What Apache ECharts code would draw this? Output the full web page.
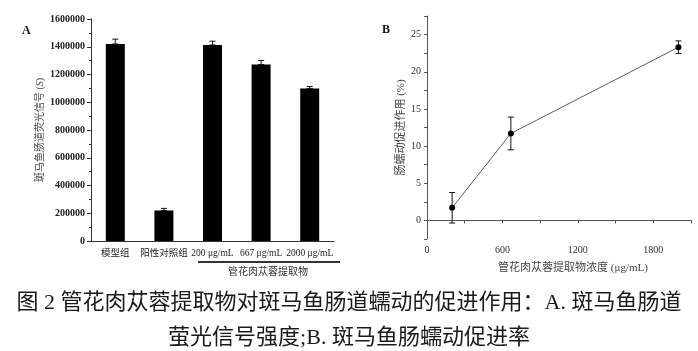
<!DOCTYPE html>
<html>
<head>
<meta charset="utf-8">
<script src="https://cdn.jsdelivr.net/npm/echarts@6/dist/echarts.min.js"></script>
<style>
  html, body { margin: 0; padding: 0; background: #fff; }
  #main { width: 698px; height: 351px; }
</style>
</head>
<body>
<div id="main"></div>
<script>
var myChart = echarts.init(document.getElementById('main'));

// panel A: fluorescence signal
var groupsA = ['模型组', '阳性对照组', '200 μg/mL', '667 μg/mL', '2000 μg/mL'];
var signalA = [1420000, 220000, 1413000, 1272000, 1100000];
var signalErrA = [35000, 15000, 27000, 29000, 14000];

// panel B: promotion rate vs concentration
var concB = [200, 667, 2000];
var rateB = [1.7, 11.7, 23.3];
var rateErrB = [2.05, 2.2, 0.85];

var serif = '"Liberation Serif", "Noto Sans CJK SC", serif';

var errA = [];
for (var i = 0; i < groupsA.length; i++) {
  errA.push([i, signalA[i], signalA[i] + signalErrA[i]]);
}
var lineB = [];
var errB = [];
for (var j = 0; j < concB.length; j++) {
  lineB.push([concB[j], rateB[j]]);
  errB.push([concB[j], rateB[j] - rateErrB[j], rateB[j] + rateErrB[j]]);
}

function errorBar(params, api) {
  var x = api.value(0);
  var p1 = api.coord([x, api.value(1)]);
  var p2 = api.coord([x, api.value(2)]);
  var half = 3;
  return {
    type: 'group',
    children: [
      { type: 'line', shape: { x1: p1[0], y1: p1[1], x2: p2[0], y2: p2[1] }, style: { stroke: '#111', lineWidth: 1 } },
      { type: 'line', shape: { x1: p2[0] - half, y1: p2[1], x2: p2[0] + half, y2: p2[1] }, style: { stroke: '#111', lineWidth: 1 } },
      { type: 'line', shape: { x1: p1[0] - half, y1: p1[1], x2: p1[0] + half, y2: p1[1] }, style: { stroke: '#111', lineWidth: 1 } }
    ]
  };
}

option = {
  animation: false,
  grid: [
    { left: 91, top: 19, width: 243, height: 222 },
    { left: 427, top: 16, width: 264, height: 223 }
  ],
  xAxis: [{
    gridIndex: 0,
    type: 'category',
    data: groupsA,
    axisLine: { lineStyle: { color: '#333', width: 1 } },
    axisTick: { show: false },
    axisLabel: { color: '#222', fontFamily: serif, fontSize: 9.5, margin: 8, interval: 0 }
  }, {
    gridIndex: 1,
    type: 'value',
    min: 0,
    max: 2100,
    interval: 300,
    name: '管花肉苁蓉提取物浓度 (μg/mL)',
    nameLocation: 'middle',
    nameGap: 24,
    nameTextStyle: { color: '#444', fontFamily: serif, fontSize: 11, padding: [0, 0, 0, 28] },
    splitLine: { show: false },
    axisLine: { lineStyle: { color: '#555', width: 1 } },
    axisTick: { length: 3, lineStyle: { color: '#555' } },
    axisLabel: {
      color: '#333', fontFamily: serif, fontSize: 10, margin: 6,
      formatter: function (v) { return v % 600 === 0 && v < 2100 ? String(v) : ''; }
    }
  }],
  yAxis: [{
    gridIndex: 0,
    type: 'value',
    min: 0,
    max: 1600000,
    interval: 200000,
    name: '斑马鱼肠道荧光信号 ({i|S})',
    nameLocation: 'middle',
    nameRotate: 90,
    nameGap: 46,
    nameTextStyle: {
      color: '#444', fontFamily: serif, fontSize: 10,
      rich: { i: { fontStyle: 'italic', fontFamily: serif, fontSize: 10, color: '#444' } }
    },
    splitLine: { show: false },
    axisLine: { show: true, lineStyle: { color: '#333', width: 1 } },
    axisTick: { show: true, length: 4, lineStyle: { color: '#333' } },
    minorTick: { show: true, splitNumber: 2, length: 2, lineStyle: { color: '#333' } },
    axisLabel: {
      color: '#222', fontFamily: serif, fontSize: 10, fontWeight: 'bold', margin: 6,
      formatter: function (v) { return String(v); }
    }
  }, {
    gridIndex: 1,
    type: 'value',
    min: -2.5,
    max: 27.5,
    interval: 2.5,
    name: '肠蠕动促进作用 (%)',
    nameLocation: 'middle',
    nameRotate: 90,
    nameGap: 19,
    nameTextStyle: { color: '#444', fontFamily: serif, fontSize: 11 },
    splitLine: { show: false },
    axisLine: { show: true, lineStyle: { color: '#555', width: 1 } },
    axisTick: { show: true, length: 3, lineStyle: { color: '#555' } },
    axisLabel: {
      color: '#333', fontFamily: serif, fontSize: 10, margin: 6,
      formatter: function (v) { return v % 5 === 0 && v >= 0 && v <= 25 ? String(v) : ''; }
    }
  }],
  series: [{
    type: 'bar',
    xAxisIndex: 0,
    yAxisIndex: 0,
    data: signalA,
    barWidth: 19,
    itemStyle: { color: '#000' }
  }, {
    type: 'custom',
    xAxisIndex: 0,
    yAxisIndex: 0,
    renderItem: errorBar,
    data: errA,
    z: 3
  }, {
    type: 'line',
    xAxisIndex: 1,
    yAxisIndex: 1,
    data: lineB,
    symbol: 'circle',
    symbolSize: 6,
    itemStyle: { color: '#000' },
    lineStyle: { color: '#333', width: 0.8 },
    z: 4
  }, {
    type: 'custom',
    xAxisIndex: 1,
    yAxisIndex: 1,
    renderItem: errorBar,
    data: errB,
    z: 3
  }],
  graphic: [
    { type: 'text', left: 22, top: 25, style: { text: 'A', font: 'bold 12px ' + serif, fill: '#111' } },
    { type: 'text', left: 382, top: 24, style: { text: 'B', font: 'bold 12px ' + serif, fill: '#111' } },
    { type: 'line', shape: { x1: 198, y1: 262, x2: 340, y2: 262 }, style: { stroke: '#333', lineWidth: 2 } },
    { type: 'text', x: 268, y: 272, style: { text: '管花肉苁蓉提取物', font: '10px ' + serif, fill: '#333', textAlign: 'center', textVerticalAlign: 'middle' } },
    { type: 'text', x: 349, y: 303, style: { text: '图 2 管花肉苁蓉提取物对斑马鱼肠道蠕动的促进作用：A. 斑马鱼肠道', font: '22px ' + serif, fill: '#1a1a1a', textAlign: 'center', textVerticalAlign: 'middle' } },
    { type: 'text', x: 349, y: 338, style: { text: '萤光信号强度;B. 斑马鱼肠蠕动促进率', font: '22px ' + serif, fill: '#1a1a1a', textAlign: 'center', textVerticalAlign: 'middle' } }
  ]
};

myChart.setOption(option);
window.onresize = myChart.resize;
</script>
</body>
</html>
